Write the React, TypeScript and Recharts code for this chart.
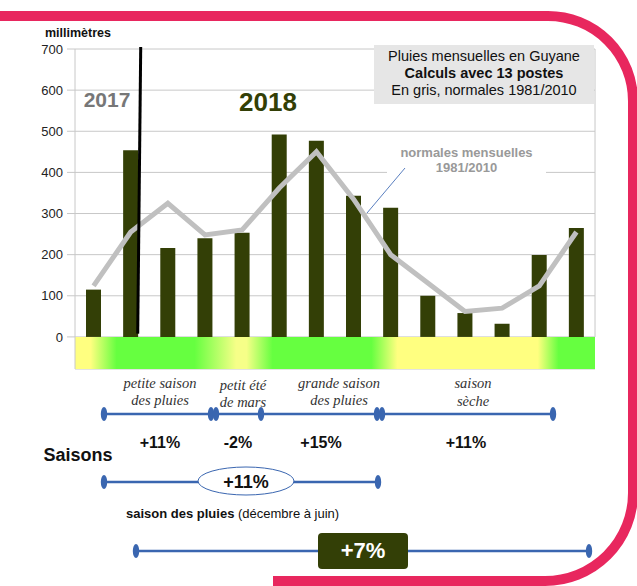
import { ComposedChart, Bar, Line, XAxis, YAxis, CartesianGrid, ReferenceArea, ReferenceLine } from 'recharts'

const MONTHS = ['N', 'D', 'J', 'F', 'M', 'A', 'M', 'J', 'J', 'A', 'S', 'O', 'N', 'D']
const RAIN_MM = [115, 454, 216, 240, 253, 492, 477, 343, 314, 100, 58, 32, 199, 265]
const NORMALS_MM = [124, 255, 325, 248, 260, 362, 450, 335, 200, 131, 62, 70, 124, 255]
const Y_TICKS = [0, 100, 200, 300, 400, 500, 600, 700]

const data = MONTHS.map((m, i) => ({ idx: i, month: m, rain: RAIN_MM[i], normal: NORMALS_MM[i] }))

const SANS = "'Liberation Sans', Arial, sans-serif"
const SERIF = "'Liberation Serif', 'Times New Roman', serif"
const OLIVE = '#333f06'
const BLUE = '#3a66b0'

function MonthTick(props: any) {
  const { x, y, payload } = props
  return (
    <text
      x={x}
      y={y - 16}
      textAnchor="middle"
      dominantBaseline="central"
      fontFamily="'DejaVu Sans Condensed', 'Liberation Sans Narrow', sans-serif"
      fontWeight="bold"
      fontSize={12}
      fill="#111"
    >
      {MONTHS[Number(payload.value)]}
    </text>
  )
}

// year separator: sits just right of the December 2017 bar, slightly tilted
function YearSplit(p: any) {
  const top = Math.min(p.y1, p.y2)
  const bottom = Math.max(p.y1, p.y2)
  return <line x1={p.x1 + 10} y1={top} x2={p.x1 + 7} y2={bottom} stroke="#000" strokeWidth={3} />
}

// right frame line, half a band past the last month
function RightEdge(p: any) {
  return <line x1={p.x1 + 18.6} y1={p.y1} x2={p.x2 + 18.6} y2={p.y2} stroke="#c8c8c8" strokeWidth={1} />
}

const abs = (x: number, y: number, extra: React.CSSProperties = {}): React.CSSProperties => ({
  position: 'absolute',
  left: x,
  top: y,
  transform: 'translate(-50%, -50%)',
  whiteSpace: 'nowrap',
  fontFamily: SANS,
  ...extra,
})

function Dot({ x, y }: { x: number; y: number }) {
  return <ellipse cx={x} cy={y} rx={3.2} ry={7} fill={BLUE} />
}

export default function App() {
  return (
    <div style={{ position: 'absolute', left: 0, top: 0, width: 637, height: 586, background: '#fff', overflow: 'hidden' }}>
      <ComposedChart width={637} height={380} data={data} margin={{ top: 49, right: 42, left: 0, bottom: 11 }}>
        <defs>
          <linearGradient id="bandGrad" x1="0" y1="0" x2="1" y2="0">
            <stop offset="0%" stopColor="#ffff80" />
            <stop offset="3%" stopColor="#ffff80" />
            <stop offset="8%" stopColor="#66ff40" />
            <stop offset="23%" stopColor="#66ff40" />
            <stop offset="31%" stopColor="#f6ff88" />
            <stop offset="33%" stopColor="#f6ff88" />
            <stop offset="38%" stopColor="#66ff40" />
            <stop offset="57%" stopColor="#66ff40" />
            <stop offset="62%" stopColor="#ffff80" />
            <stop offset="89%" stopColor="#ffff80" />
            <stop offset="93%" stopColor="#66ff40" />
            <stop offset="100%" stopColor="#66ff40" />
          </linearGradient>
        </defs>
        <CartesianGrid vertical={false} stroke="#c8c8c8" />
        <XAxis dataKey="idx" type="category" height={0} axisLine={false} tickLine={false} tick={<MonthTick />} interval={0} />
        <YAxis
          domain={[-78, 700]}
          ticks={Y_TICKS}
          width={75}
          interval={0}
          axisLine={{ stroke: '#c8c8c8' }}
          tickLine={{ stroke: '#c8c8c8' }}
          tickSize={8}
          tickMargin={4}
          tick={{ fill: '#222', fontSize: 13, fontFamily: SANS }}
        />
        <ReferenceArea y1={-78} y2={0} fill="url(#bandGrad)" fillOpacity={1} stroke="none" />
        <ReferenceLine
          segment={[{ x: 13, y: 0 }, { x: 13, y: 700 }]}
          shape={<RightEdge />}
          ifOverflow="visible"
        />
        <Bar dataKey="rain" fill={OLIVE} barSize={15} isAnimationActive={false} />
        <Line dataKey="normal" type="linear" stroke="#c0c0c0" strokeWidth={5} dot={false} isAnimationActive={false} />
        <ReferenceLine
          segment={[{ x: 1, y: 8 }, { x: 1, y: 705 }]}
          shape={<YearSplit />}
          ifOverflow="visible"
        />
      </ComposedChart>

      <div style={abs(78, 33, { fontSize: 12.5, fontWeight: 'bold', color: '#111' })}>millimètres</div>
      <div style={abs(107, 100, { fontSize: 21, fontWeight: 'bold', color: '#777' })}>2017</div>
      <div style={abs(268, 102, { fontSize: 26, fontWeight: 'bold', color: OLIVE })}>2018</div>

      <div
        style={{
          position: 'absolute',
          left: 374,
          top: 45,
          width: 220,
          height: 59,
          background: '#e6e6e6',
          fontFamily: SANS,
          fontSize: 14.5,
          lineHeight: '17px',
          color: '#111',
          textAlign: 'center',
          paddingTop: 3,
          boxSizing: 'border-box',
        }}
      >
        <div>Pluies mensuelles en Guyane</div>
        <div style={{ fontWeight: 'bold' }}>Calculs avec 13 postes</div>
        <div>En gris, normales 1981/2010</div>
      </div>

      <div
        style={{
          position: 'absolute',
          left: 387,
          top: 143,
          width: 159,
          height: 33,
          background: '#fff',
          fontFamily: SANS,
          fontSize: 13,
          fontWeight: 'bold',
          color: '#999',
          textAlign: 'center',
          lineHeight: '15px',
          paddingTop: 2,
          boxSizing: 'border-box',
        }}
      >
        <div>normales mensuelles</div>
        <div>1981/2010</div>
      </div>

      <svg width={637} height={586} style={{ position: 'absolute', left: 0, top: 0, pointerEvents: 'none' }}>
        <line x1={405} y1={168} x2={367} y2={213} stroke="#5a7fc0" strokeWidth={1} />

        <line x1={104} y1={414} x2={553} y2={414} stroke={BLUE} strokeWidth={2.5} />
        <Dot x={104} y={414} />
        <Dot x={211} y={414} />
        <Dot x={216} y={414} />
        <Dot x={261} y={414} />
        <Dot x={377} y={414} />
        <Dot x={382} y={414} />
        <Dot x={553} y={414} />

        <line x1={104} y1={482} x2={378} y2={482} stroke={BLUE} strokeWidth={2.5} />
        <Dot x={104} y={482} />
        <Dot x={378} y={482} />
        <ellipse cx={246} cy={481} rx={48} ry={14} fill="#fff" stroke={BLUE} strokeWidth={1} />

        <line x1={136} y1={551} x2={589} y2={551} stroke={BLUE} strokeWidth={2.5} />
        <Dot x={136} y={551} />
        <Dot x={589} y={551} />
        <rect x={318} y={533} width={90} height={36} rx={4} fill={OLIVE} />

        <path
          d="M 0 16 H 548 A 85 85 0 0 1 633 101 V 493 A 88 88 0 0 1 545 581 H 273"
          fill="none"
          stroke="#e8275e"
          strokeWidth={10}
        />
      </svg>

      <div style={abs(160, 383, { fontFamily: SERIF, fontStyle: 'italic', fontSize: 14.5, color: '#333' })}>petite saison</div>
      <div style={abs(160, 400, { fontFamily: SERIF, fontStyle: 'italic', fontSize: 14.5, color: '#333' })}>des pluies</div>
      <div style={abs(243, 385, { fontFamily: SERIF, fontStyle: 'italic', fontSize: 14.5, color: '#333' })}>petit été</div>
      <div style={abs(243, 402, { fontFamily: SERIF, fontStyle: 'italic', fontSize: 14.5, color: '#333' })}>de mars</div>
      <div style={abs(339, 383, { fontFamily: SERIF, fontStyle: 'italic', fontSize: 14.5, color: '#333' })}>grande saison</div>
      <div style={abs(339, 400, { fontFamily: SERIF, fontStyle: 'italic', fontSize: 14.5, color: '#333' })}>des pluies</div>
      <div style={abs(473, 383, { fontFamily: SERIF, fontStyle: 'italic', fontSize: 14.5, color: '#333' })}>saison</div>
      <div style={abs(473, 401, { fontFamily: SERIF, fontStyle: 'italic', fontSize: 14.5, color: '#333' })}>sèche</div>

      <div style={abs(160, 443, { fontSize: 16, fontWeight: 'bold', color: '#111' })}>+11%</div>
      <div style={abs(238, 443, { fontSize: 16, fontWeight: 'bold', color: '#111' })}>-2%</div>
      <div style={abs(321, 443, { fontSize: 16, fontWeight: 'bold', color: '#111' })}>+15%</div>
      <div style={abs(466, 443, { fontSize: 16, fontWeight: 'bold', color: '#111' })}>+11%</div>

      <div style={abs(78, 455, { fontSize: 18, fontWeight: 'bold', color: '#111' })}>Saisons</div>
      <div style={abs(246, 482, { fontSize: 18, fontWeight: 'bold', color: '#111' })}>+11%</div>

      <div style={{ position: 'absolute', left: 126, top: 506, fontFamily: SANS, fontSize: 13, color: '#111', whiteSpace: 'nowrap' }}>
        <b>saison des pluies</b> (décembre à juin)
      </div>
      <div style={abs(363, 551, { fontSize: 22, fontWeight: 'bold', color: '#fff' })}>+7%</div>
    </div>
  )
}
